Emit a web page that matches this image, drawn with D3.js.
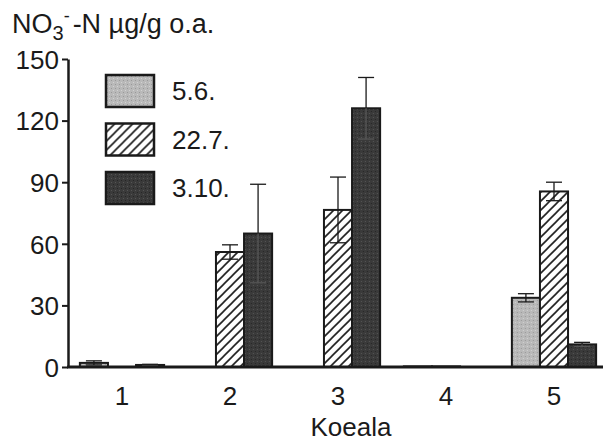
<!DOCTYPE html>
<html>
<head>
<meta charset="utf-8">
<script src="https://cdn.jsdelivr.net/npm/d3@7"></script>
<style>
  body { margin: 0; background: #fff; }
  text { font-family: "Liberation Sans", Arial, sans-serif; fill: #1a1a1a; }
</style>
</head>
<body>
<div id="chart-area"></div>
<script>
// data
var plots = ['1', '2', '3', '4', '5'];
var dates = ['5.6.', '22.7.', '3.10.'];
var june = [2, 0, 0, 0.3, 33.7];
var july = [0, 56, 76.5, 0.3, 85.5];
var october = [1, 65, 126, 0, 11];
var juneErr = [1, 0, 0, 0, 2];
var julyErr = [0, 3.5, 16, 0, 4.5];
var octoberErr = [0.3, 24, 15, 0, 1];
var yTicks = [0, 30, 60, 90, 120, 150];

var series = [
  {name: dates[0], values: june, err: juneErr, fill: 'url(#dots-light)'},
  {name: dates[1], values: july, err: julyErr, fill: 'url(#hatch)'},
  {name: dates[2], values: october, err: octoberErr, fill: 'url(#dots-dark)'}
];

var W = 603, H = 442;
var margin = {top: 59, left: 68, right: 0, bottom: 75};
var height = H - margin.top - margin.bottom;
var width = W - margin.left - margin.right;

var svg = d3.select('#chart-area')
  .append('svg')
    .attr('width', W)
    .attr('height', H);

// patterns
var defs = svg.append('defs');
var light = defs.append('pattern')
  .attr('id', 'dots-light')
  .attr('patternUnits', 'userSpaceOnUse')
  .attr('width', 4).attr('height', 4);
light.append('rect').attr('width', 4).attr('height', 4).attr('fill', '#b9b9b9');
light.append('rect').attr('x', 1).attr('y', 1).attr('width', 1).attr('height', 1).attr('fill', '#999');
light.append('rect').attr('x', 3).attr('y', 3).attr('width', 1).attr('height', 1).attr('fill', '#d2d2d2');

var dark = defs.append('pattern')
  .attr('id', 'dots-dark')
  .attr('patternUnits', 'userSpaceOnUse')
  .attr('width', 4).attr('height', 4);
dark.append('rect').attr('width', 4).attr('height', 4).attr('fill', '#3a3a3a');
dark.append('rect').attr('x', 1).attr('y', 2).attr('width', 1).attr('height', 1).attr('fill', '#555');
dark.append('rect').attr('x', 3).attr('y', 0).attr('width', 1).attr('height', 1).attr('fill', '#262626');

var hatch = defs.append('pattern')
  .attr('id', 'hatch')
  .attr('patternUnits', 'userSpaceOnUse')
  .attr('width', 9).attr('height', 9);
hatch.append('rect').attr('width', 9).attr('height', 9).attr('fill', '#fff');
hatch.append('path')
  .attr('d', 'M-2,11 L11,-2 M-2,2 L2,-2 M7,11 L11,7')
  .attr('stroke', '#1a1a1a')
  .attr('stroke-width', 1.6);

var g = svg.append('g')
  .attr('transform', 'translate(' + margin.left + ',' + margin.top + ')');

// scales
var y = d3.scaleLinear().domain([0, 150]).range([height, 0]);
var x0 = d3.scaleBand().domain(plots).range([0, 540]).paddingInner(0.22).paddingOuter(0.11);
var x1 = d3.scaleBand().domain(dates).range([0, x0.bandwidth()]);

// bars
var groups = g.selectAll('.group')
  .data(plots)
  .enter().append('g')
    .attr('class', 'group')
    .attr('transform', function(d) { return 'translate(' + x0(d) + ',0)'; });

series.forEach(function(s) {
  groups.each(function(p, i) {
    var v = s.values[i];
    var e = s.err[i];
    var cx = x1(s.name) + x1.bandwidth() / 2;
    var grp = d3.select(this);
    if (v > 0) {
      grp.append('rect')
        .attr('x', x1(s.name))
        .attr('y', y(v))
        .attr('width', x1.bandwidth())
        .attr('height', y(0) - y(v))
        .attr('fill', s.fill)
        .attr('stroke', '#1a1a1a')
        .attr('stroke-width', 2);
    }
    if (e > 0) {
      var col = s.name === '3.10.' ? '#555' : '#1a1a1a';
      grp.append('line')
        .attr('x1', cx).attr('x2', cx)
        .attr('y1', y(v + e)).attr('y2', y(v))
        .attr('stroke', '#1a1a1a').attr('stroke-width', 1.3);
      grp.append('line')
        .attr('x1', cx).attr('x2', cx)
        .attr('y1', y(v)).attr('y2', y(Math.max(v - e, 0)))
        .attr('stroke', col).attr('stroke-width', 1.3);
      grp.append('line')
        .attr('x1', cx - 8).attr('x2', cx + 8)
        .attr('y1', y(v + e)).attr('y2', y(v + e))
        .attr('stroke', '#1a1a1a').attr('stroke-width', 1.3);
      grp.append('line')
        .attr('x1', cx - 8).attr('x2', cx + 8)
        .attr('y1', y(Math.max(v - e, 0))).attr('y2', y(Math.max(v - e, 0)))
        .attr('stroke', col).attr('stroke-width', 1.3);
    }
  });
});

// y axis
var yAxis = g.append('g')
  .call(d3.axisLeft(y).tickValues(yTicks).tickSize(6).tickSizeOuter(0).tickPadding(3));
yAxis.select('.domain').attr('stroke', '#1a1a1a').attr('stroke-width', 2.5);
yAxis.selectAll('.tick line').attr('stroke', '#1a1a1a').attr('stroke-width', 2);
yAxis.selectAll('.tick text')
  .attr('font-size', '26px')
  .attr('font-family', '"Liberation Sans", Arial, sans-serif')
  .attr('fill', '#1a1a1a')
  .attr('dy', '0.36em');

// x axis line
g.append('line')
  .attr('x1', -1).attr('x2', width)
  .attr('y1', y(0)).attr('y2', y(0))
  .attr('stroke', '#1a1a1a')
  .attr('stroke-width', 3);

// x labels
g.selectAll('.x-label')
  .data(plots)
  .enter().append('text')
    .attr('class', 'x-label')
    .attr('x', function(d) { return x0(d) + x0.bandwidth() / 2; })
    .attr('y', height + 38)
    .attr('text-anchor', 'middle')
    .attr('font-size', '26px')
    .text(function(d) { return d; });

g.append('text')
  .attr('x', 283)
  .attr('y', height + 69)
  .attr('text-anchor', 'middle')
  .attr('font-size', '26px')
  .text('Koeala');

// y title
var title = svg.append('text')
  .attr('x', 12)
  .attr('y', 33)
  .attr('font-size', '27px');
title.append('tspan').text('NO');
title.append('tspan').attr('font-size', '20px').attr('dy', 7).text('3');
title.append('tspan').attr('font-size', '18px').attr('dy', -18).text('-');
title.append('tspan').attr('dy', 11).attr('dx', 3).text('-N µg/g o.a.');

// legend
var legend = svg.append('g').attr('transform', 'translate(106,75)');
series.forEach(function(s, i) {
  var row = legend.append('g').attr('transform', 'translate(0,' + (i * 48.5) + ')');
  row.append('rect')
    .attr('width', 48)
    .attr('height', 32)
    .attr('fill', s.fill)
    .attr('stroke', '#1a1a1a')
    .attr('stroke-width', 2.5);
  row.append('text')
    .attr('x', 66)
    .attr('y', 25)
    .attr('font-size', '26px')
    .text(s.name);
});
</script>
</body>
</html>
